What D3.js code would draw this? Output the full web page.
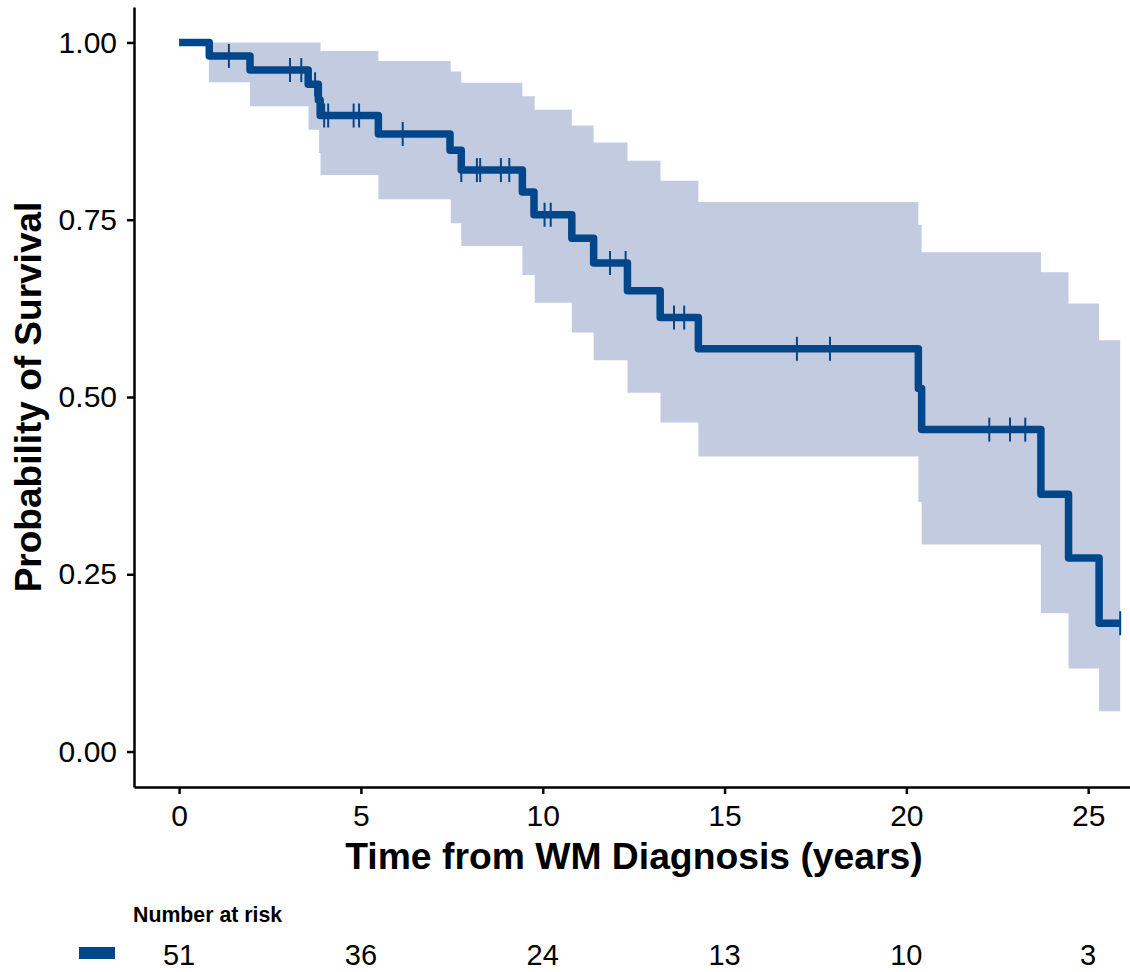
<!DOCTYPE html>
<html>
<head>
<meta charset="utf-8">
<script src="https://cdn.jsdelivr.net/npm/d3@7"></script>
<style>
  body { margin: 0; background: #fff; }
  svg text { font-family: "Liberation Sans", Arial, Helvetica, sans-serif; }
</style>
</head>
<body>
<svg id="chart" width="1130" height="972"></svg>
<script>
// Kaplan-Meier estimate: time of each step (years) and survival after it
var survTime = [0, 0.83, 1.95, 3.55, 3.83, 3.88, 5.48, 7.45, 7.76, 9.44, 9.76,
                10.80, 11.40, 12.33, 13.23, 14.28, 20.33, 20.42, 23.70, 24.46, 25.30];
var survProb = [1, 0.981, 0.961, 0.941, 0.919, 0.897, 0.871, 0.848, 0.820, 0.789, 0.757,
                0.724, 0.689, 0.650, 0.612, 0.568, 0.512, 0.454, 0.363, 0.273, 0.181];
var lastTime = 25.88;

// 95% confidence band steps
var ciTime  = [0.82, 1.95, 3.56, 3.85, 3.89, 5.48, 7.47, 7.76, 9.44, 9.78,
               10.80, 11.40, 12.33, 13.24, 14.28, 20.33, 20.42, 23.70, 24.46, 25.30];
var ciUpper = [1, 1, 1, 1, 0.988, 0.974, 0.959, 0.943, 0.924, 0.905,
               0.883, 0.859, 0.833, 0.805, 0.775, 0.743, 0.704, 0.676, 0.632, 0.580];
var ciLower = [0.944, 0.910, 0.877, 0.844, 0.813, 0.779, 0.745, 0.713, 0.672, 0.633,
               0.591, 0.552, 0.506, 0.464, 0.416, 0.352, 0.292, 0.195, 0.117, 0.057];

// censored observations (years)
var censorTime = [1.37, 3.05, 3.36, 3.74, 3.99, 4.10, 4.80, 4.95, 6.15, 7.76, 8.19, 8.28,
                  8.85, 9.08, 10.05, 10.22, 11.85, 12.28, 13.61, 13.89, 16.99, 17.90,
                  22.28, 22.85, 23.27, 25.88];

// number at risk table
var riskTime = [0, 5, 10, 15, 20, 25];
var riskCount = [51, 36, 24, 13, 10, 3];

var yTicks = [0, 0.25, 0.5, 0.75, 1];

var blue = "#00468B";
var svg = d3.select("#chart");

var x = d3.scaleLinear().domain([-1.24, 26.15]).range([134, 1130]);
var y = d3.scaleLinear().domain([-0.05, 1.05]).range([787, 7]);

// confidence band
var band = ciTime.map(function(t, i) { return {t: t, lo: ciLower[i], hi: ciUpper[i]}; });
band.push({t: lastTime, lo: ciLower[ciLower.length - 1], hi: ciUpper[ciUpper.length - 1]});

svg.append("path")
  .datum(band)
  .attr("fill", "#c3cbe0")
  .attr("d", d3.area()
    .curve(d3.curveStepAfter)
    .x(function(d) { return x(d.t); })
    .y0(function(d) { return y(d.lo); })
    .y1(function(d) { return y(d.hi); }));

// survival curve
var km = survTime.map(function(t, i) { return {t: t, s: survProb[i]}; });
km.push({t: lastTime, s: survProb[survProb.length - 1]});

svg.append("path")
  .datum(km)
  .attr("fill", "none")
  .attr("stroke", blue)
  .attr("stroke-width", 7.5)
  .attr("stroke-linejoin", "round")
  .attr("d", d3.line()
    .curve(d3.curveStepAfter)
    .x(function(d) { return x(d.t); })
    .y(function(d) { return y(d.s); }));

// censor marks
function survAt(t) {
  var i = d3.bisectRight(survTime, t) - 1;
  return survProb[Math.max(i, 0)];
}
svg.selectAll("line.censor")
  .data(censorTime)
  .enter().append("line")
  .attr("class", "censor")
  .attr("x1", function(d) { return x(d); })
  .attr("x2", function(d) { return x(d); })
  .attr("y1", function(d) { return y(survAt(d)) - 12; })
  .attr("y2", function(d) { return y(survAt(d)) + 12; })
  .attr("stroke", blue)
  .attr("stroke-width", 2);

// axes
var yAxis = svg.append("g")
  .attr("transform", "translate(134,0)")
  .call(d3.axisLeft(y).tickValues(yTicks).tickFormat(d3.format(".2f"))
    .tickSize(7).tickSizeOuter(0).tickPadding(10));
var xAxis = svg.append("g")
  .attr("transform", "translate(0,787)")
  .call(d3.axisBottom(x).tickValues(riskTime).tickFormat(d3.format("d"))
    .tickSize(7).tickSizeOuter(0).tickPadding(11));

[yAxis, xAxis].forEach(function(g) {
  g.select(".domain").attr("stroke", "#000").attr("stroke-width", 2.5);
  g.selectAll(".tick line").attr("stroke", "#000").attr("stroke-width", 2.5);
  g.selectAll(".tick text")
    .attr("fill", "#000")
    .style("font-size", "30px")
    .style("font-family", "'Liberation Sans', Arial, sans-serif");
});

// axis titles
svg.append("text")
  .attr("x", 634)
  .attr("y", 869)
  .attr("text-anchor", "middle")
  .style("font-size", "37.3px")
  .style("font-weight", "bold")
  .text("Time from WM Diagnosis (years)");

svg.append("text")
  .attr("transform", "translate(41,397) rotate(-90)")
  .attr("text-anchor", "middle")
  .style("font-size", "37px")
  .style("font-weight", "bold")
  .text("Probability of Survival");

// number at risk
svg.append("text")
  .attr("x", 133)
  .attr("y", 922)
  .style("font-size", "21.3px")
  .style("font-weight", "bold")
  .text("Number at risk");

svg.append("rect")
  .attr("x", 79)
  .attr("y", 947)
  .attr("width", 36)
  .attr("height", 12)
  .attr("fill", blue);

svg.selectAll("text.risk")
  .data(riskCount)
  .enter().append("text")
  .attr("class", "risk")
  .attr("x", function(d, i) { return x(riskTime[i]); })
  .attr("y", 965)
  .attr("text-anchor", "middle")
  .style("font-size", "29px")
  .text(function(d) { return d; });
</script>
</body>
</html>
